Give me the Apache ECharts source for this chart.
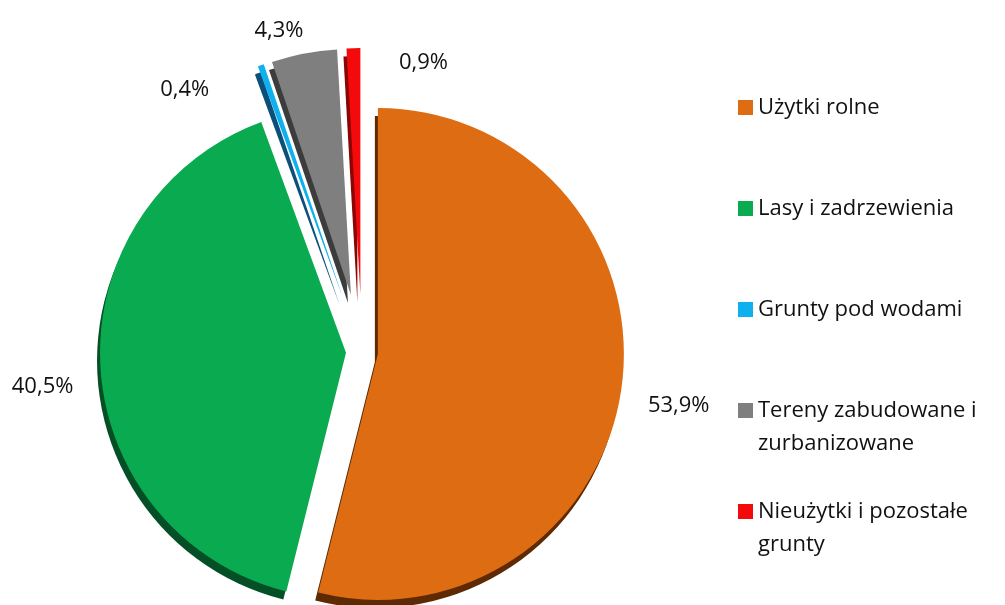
<!DOCTYPE html>
<html>
<head>
<meta charset="utf-8">
<script src="https://cdn.jsdelivr.net/npm/echarts@6/dist/echarts.min.js"></script>
<style>
  html, body { margin: 0; padding: 0; background: #fff; }
  #chart { width: 1005px; height: 605px; }
</style>
</head>
<body>
<div id="chart"></div>
<script>
// dane (udział procentowy)
const categories = ['Użytki rolne', 'Lasy i zadrzewienia', 'Grunty pod wodami', 'Tereny zabudowane i zurbanizowane', 'Nieużytki i pozostałe grunty']
const shares = [53.9, 40.5, 0.4, 4.3, 0.9]
// pierwsza pusta linia -> ikona na wysokości pierwszego wiersza
const legendLabels = ['\nUżytki rolne\n', '\nLasy i zadrzewienia\n', '\nGrunty pod wodami\n', '\nTereny zabudowane i\nzurbanizowane', '\nNieużytki i pozostałe\ngrunty']

const colors = ['#DE6C12', '#0AAA50', '#0EB0EE', '#7F7F7F', '#F40A0A']
const edgeColors = ['#5E2A04', '#044F26', '#0B4F7A', '#3C3C3C', '#8A0505']
// przesunięcia etykiet [dx, dy]
const labelNudge = [[7, 20], [-8, 20], [-42, 38], [7, -9], [100, 29]]

// duże wycinki i małe wycinki są wysunięte o różne odległości
const bigIdx = [0, 1]
const smallIdx = [2, 3, 4]

const fmt = v => v.toFixed(1).replace('.', ',') + '%'

function sliceItem(i) {
  return {
    name: categories[i],
    value: shares[i],
    selected: true,
    itemStyle: {
      color: colors[i],
      shadowColor: edgeColors[i],
      shadowBlur: 0,
      shadowOffsetX: -3,
      shadowOffsetY: 8
    }
  }
}

function spacer(value) {
  return {
    name: '',
    value: value,
    itemStyle: { color: 'rgba(0,0,0,0)' },
    label: { show: false },
    tooltip: { show: false }
  }
}

const sum = idx => idx.reduce((s, i) => s + shares[i], 0)

// indeks kategorii dla (seria, indeks danych)
function catIndex(seriesIndex, dataIndex) {
  if (seriesIndex === 0) return dataIndex < bigIdx.length ? bigIdx[dataIndex] : -1
  return dataIndex > 0 ? smallIdx[dataIndex - 1] : -1
}

const chart = echarts.init(document.getElementById('chart'))

const common = {
  type: 'pie',
  center: [362, 352],
  radius: 246,
  startAngle: 90,
  clockwise: true,
  selectedMode: 'multiple',
  avoidLabelOverlap: false,
  emphasis: { disabled: true },
  labelLine: { show: false, length: 14, length2: 0 },
  label: {
    show: true,
    position: 'outside',
    formatter: p => fmt(p.value),
    fontFamily: 'Open Sans',
    fontSize: 22,
    color: '#111'
  },
  labelLayout: p => {
    const i = catIndex(p.seriesIndex, p.dataIndex)
    if (i < 0) return {}
    return { dx: labelNudge[i][0], dy: labelNudge[i][1], hideOverlap: false }
  }
}

chart.setOption({
  animation: false,
  legend: {
    orient: 'vertical',
    left: 733,
    top: 53,
    itemWidth: 15,
    itemHeight: 15,
    itemGap: 2,
    icon: 'rect',
    data: categories,
    formatter: name => legendLabels[categories.indexOf(name)],
    textStyle: {
      fontFamily: 'Open Sans',
      fontSize: 22,
      lineHeight: 33,
      color: '#111'
    }
  },
  series: [
    Object.assign({}, common, {
      name: 'duze',
      selectedOffset: 16,
      data: bigIdx.map(sliceItem).concat([spacer(sum(smallIdx))])
    }),
    Object.assign({}, common, {
      name: 'male',
      selectedOffset: 58,
      data: [spacer(sum(bigIdx))].concat(smallIdx.map(sliceItem))
    })
  ]
})
</script>
</body>
</html>
